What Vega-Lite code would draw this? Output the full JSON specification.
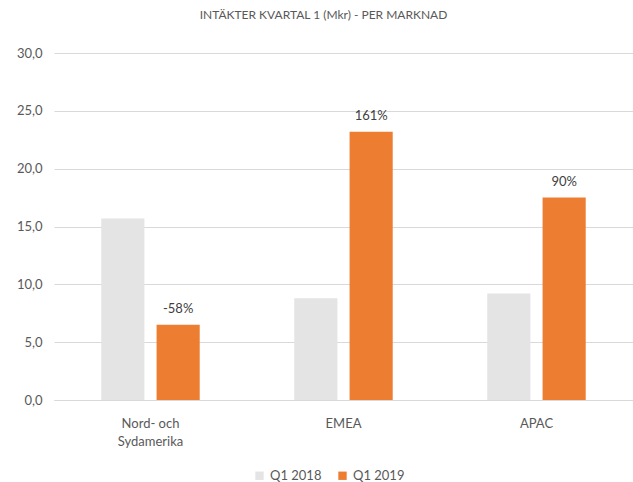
{
  "$schema": "https://vega.github.io/schema/vega-lite/v6.json",
  "width": 579,
  "height": 347,
  "autosize": "none",
  "padding": {"left": 54, "top": 53, "right": 0, "bottom": 82},
  "background": "white",
  "title": {
    "text": "INTÄKTER  KVARTAL  1 (Mkr) - PER MARKNAD",
    "fontSize": 12,
    "fontWeight": "normal",
    "font": "Lato",
    "color": "#595959",
    "offset": 25,
    "dx": -20
  },
  "config": {
    "view": {"stroke": null},
    "font": "Lato"
  },
  "data": {
    "values": [
      {"region": "Nord- och Sydamerika", "period": "Q1 2018", "value": 15.7, "label": ""},
      {"region": "Nord- och Sydamerika", "period": "Q1 2019", "value": 6.5, "label": "-58%"},
      {"region": "EMEA", "period": "Q1 2018", "value": 8.8, "label": ""},
      {"region": "EMEA", "period": "Q1 2019", "value": 23.2, "label": "161%"},
      {"region": "APAC", "period": "Q1 2018", "value": 9.2, "label": ""},
      {"region": "APAC", "period": "Q1 2019", "value": 17.5, "label": "90%"}
    ]
  },
  "encoding": {
    "x": {
      "field": "region",
      "type": "nominal",
      "sort": ["Nord- och Sydamerika", "EMEA", "APAC"],
      "scale": {"paddingInner": 0.49, "paddingOuter": 0.245},
      "axis": {
        "title": null,
        "labelAngle": 0,
        "labelFontSize": 13,
        "labelColor": "#595959",
        "labelPadding": 17,
        "labelLineHeight": 18,
        "ticks": false,
        "domainColor": "#d9d9d9",
        "labelExpr": "datum.label == 'Nord- och Sydamerika' ? ['Nord- och', 'Sydamerika'] : datum.label"
      }
    },
    "xOffset": {
      "field": "period",
      "type": "nominal",
      "scale": {"paddingInner": 0.22, "paddingOuter": 0}
    },
    "y": {
      "field": "value",
      "type": "quantitative",
      "scale": {"domain": [0, 30]},
      "axis": {
        "title": null,
        "values": [0, 5, 10, 15, 20, 25, 30],
        "labelFontSize": 13,
        "labelColor": "#595959",
        "labelPadding": 12,
        "labelOverlap": false,
        "ticks": false,
        "domain": false,
        "gridColor": "#d9d9d9",
        "labelExpr": "replace(format(datum.value, '.1f'), '.', ',')"
      }
    }
  },
  "layer": [
    {
      "mark": {"type": "bar"},
      "encoding": {
        "color": {
          "field": "period",
          "type": "nominal",
          "scale": {"domain": ["Q1 2018", "Q1 2019"], "range": ["#e4e4e4", "#ed7d31"]},
          "legend": {
            "title": null,
            "orient": "none",
            "legendX": 199,
            "legendY": 416,
            "direction": "horizontal",
            "symbolType": "square",
            "symbolSize": 70,
            "symbolStrokeWidth": 0,
            "labelFontSize": 13,
            "labelColor": "#595959",
            "columnPadding": 14,
            "labelOffset": 4
          }
        }
      }
    },
    {
      "mark": {"type": "text", "dy": -16, "fontSize": 13, "color": "#404040"},
      "encoding": {
        "text": {"field": "label"}
      }
    }
  ]
}
